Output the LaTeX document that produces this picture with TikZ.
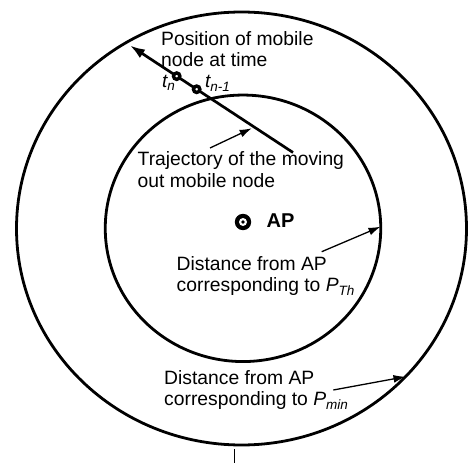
\documentclass[tikz,border=0pt]{standalone}
\usepackage{fontspec}
\setmainfont{Liberation Sans}
\usetikzlibrary{arrows.meta,shapes.geometric,calc}
\newcommand{\lowsub}[1]{\raisebox{-3.5pt}{\fontsize{13.5}{13.5}\selectfont\itshape #1}}
\begin{document}
\begin{tikzpicture}[x=1pt,y=-1pt,
  ring/.style={draw, ellipse, line width=2.8pt, inner sep=0pt},
  lbl/.style={anchor=north west, inner sep=0pt, align=left, font=\fontsize{19.3}{21.5}\selectfont},
  tlbl/.style={anchor=base west, inner sep=0pt, font=\fontsize{19}{19}\selectfont\itshape},
  traj/.style={line width=2.7pt, -{Latex[length=15pt,width=10pt]}},
  pointer/.style={line width=1.3pt, -{Latex[length=12pt,width=8pt]}},
  posdot/.style={circle, draw, fill=white, line width=3.4pt, minimum size=6.4pt, inner sep=0pt},
]
\useasboundingbox (0,0) rectangle (469,463);

% coverage circles
\node[ring, minimum width=450pt, minimum height=433pt] (outer) at (241.5,228.5) {};
\node[ring, minimum width=275.5pt, minimum height=266.5pt] (inner) at (243,228.3) {};

% access point
\node[circle, fill=black, minimum size=16.4pt, inner sep=0pt] (ap) at (243,222) {};
\node[circle, fill=white, minimum size=8pt, inner sep=0pt] (apring) at (ap.center) {};
\node[circle, fill=black, minimum size=3.6pt, inner sep=0pt] (apdot) at (ap.center) {};
\node[anchor=base west, inner sep=0pt, font=\fontsize{20}{20}\selectfont\bfseries] (aplabel) at (266.5,227.3) {AP};

% trajectory
\coordinate (trajstart) at (293,152.5);
\coordinate (trajend) at (130,45.5);
\draw[traj] (trajstart) -- (trajend);
\node[posdot] (tn) at ($(trajend)!0.2865!(trajstart)$) {};
\node[posdot] (tnm) at ($(trajend)!0.409!(trajstart)$) {};
\node[tlbl] (tnlabel) at (162,87) {t\lowsub{n}};
\node[tlbl] (tnmlabel) at (205,87.5) {t\lowsub{n-1}};

\node[lbl] (postext) at (161,31) {Position of mobile\\node at time};
\node[lbl] (trajtext) at (137.5,151.5) {Trajectory of the moving\\out mobile node};
\coordinate (trajtail) at (210,148);
\coordinate (trajpt) at (251.7,128.3);
\draw[pointer] (trajtail) -- (trajpt);

% distance labels
\node[lbl] (pthtext) at (176.5,256) {Distance from AP\\corresponding to \textit{P}\lowsub{Th}};
\coordinate (pthtail) at (321.7,251.7);
\coordinate (pthtip) at (380.5,226.7);
\draw[pointer] (pthtail) -- (pthtip);

\node[lbl] (pmintext) at (164,370) {Distance from AP\\corresponding to \textit{P}\lowsub{min}};
\coordinate (pmintail) at (333.3,390);
\coordinate (pmintip) at (405.5,376.7);
\draw[pointer] (pmintail) -- (pmintip);

% stub below
\coordinate (stubtop) at (234.5,449);
\coordinate (stubbot) at (234.5,463);
\draw[line width=1.6pt] (stubtop) -- (stubbot);
\end{tikzpicture}
\end{document}
